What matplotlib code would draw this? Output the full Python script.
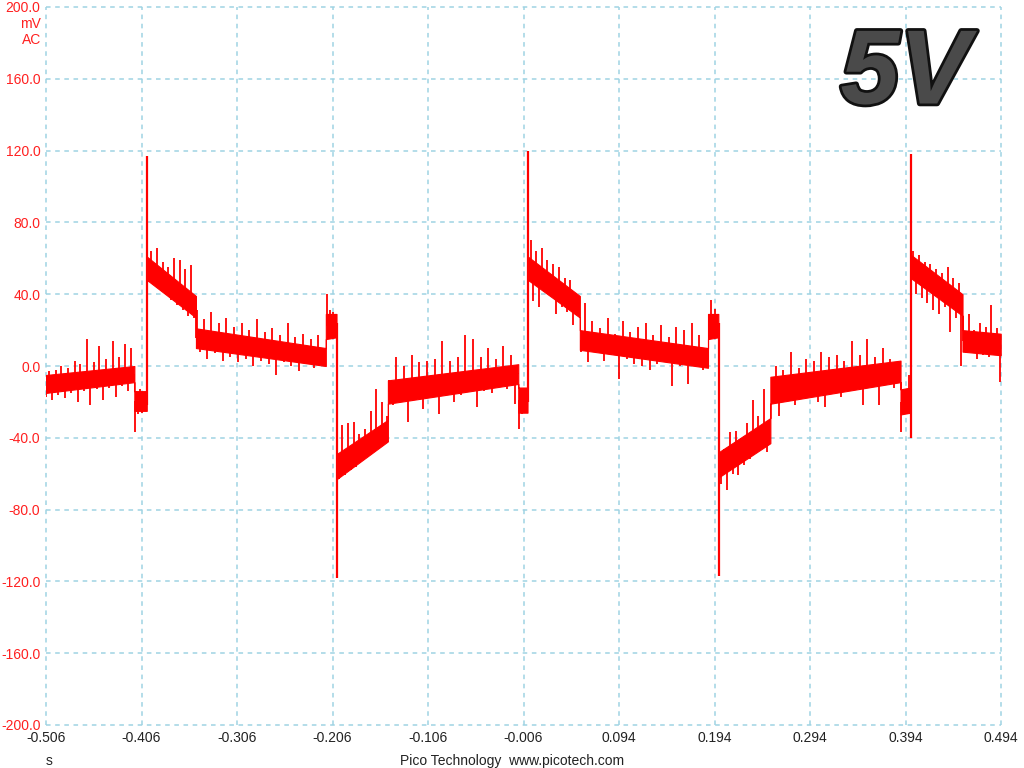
import numpy as np
import matplotlib
matplotlib.use("Agg")
import matplotlib.pyplot as plt
import matplotlib.patheffects as pe

plt.rcParams['font.family'] = ['Liberation Sans', 'DejaVu Sans']

# band of the dense trace (s, mV)
band_t = [-0.506, -0.4135, -0.4135, -0.4005, -0.4005, -0.349, -0.349, -0.213, -0.213, -0.2018,
          -0.2015, -0.148, -0.148, -0.0115, -0.0115, -0.0018, -0.0015, 0.053, 0.053, 0.1872,
          0.1872, 0.198, 0.1985, 0.2525, 0.2525, 0.3888, 0.3888, 0.3993, 0.3995, 0.4537,
          0.4537, 0.4937]
band_lo = [-15, -9, -25, -25, 48, 27, 10, 0, 15, 16, -63, -42, -21, -10, -26, -26, 48, 27, 9, -1,
           15, 16, -62, -43, -21, -9, -27, -26, 49, 28, 8, 6]
band_hi = [-5, 0, -14, -14, 61, 39, 21, 10, 29, 29, -49, -30, -8, 1, -12, -12, 61, 39, 20, 10,
           29, 29, -48, -29, -6, 3, -13, -12, 62, 40, 20, 18]

# the big transients at each edge
big_t = [-0.4005, -0.2016, -0.0016, 0.1982, 0.3993]
big_lo = [-22, -118, -20, -117, -40]
big_hi = [117, 24, 120, 24, 118]

# noise spike tips, segment by segment
t_a = [-0.506, -0.503, -0.500, -0.496, -0.493, -0.490, -0.486, -0.483, -0.480, -0.476, -0.473,
       -0.470, -0.466, -0.463, -0.460, -0.456, -0.453, -0.450, -0.446, -0.443, -0.440, -0.436,
       -0.433, -0.430, -0.426, -0.423, -0.420, -0.417, -0.414]
v_a = [-17, -3, -19, -2, -16, 0, -18, -1, -15, 3, -20, 1, -14, 15, -22, 2, -13, 11, -19, 4,
       -12, 14, -17, 5, -11, 12, -14, 10, -9]
t_b = [-0.413, -0.412, -0.410, -0.408, -0.406, -0.404, -0.402, -0.401]
v_b = [-37, -14, -27, -13, -26, -15, -25, -17]
t_c = [-0.400, -0.398, -0.396, -0.393, -0.390, -0.387, -0.384, -0.381, -0.378,
       -0.375, -0.372, -0.369, -0.366, -0.363, -0.360, -0.357, -0.354, -0.351, -0.349]
v_c = [68, 47, 64, 46, 66, 43, 58, 40, 55, 37, 60, 34, 59, 31, 54, 28, 56, 27, 38]
t_d = [-0.348, -0.345, -0.341, -0.337, -0.333, -0.329, -0.325, -0.321, -0.317, -0.313,
       -0.309, -0.305, -0.301, -0.297, -0.293, -0.289, -0.285, -0.281, -0.277, -0.273,
       -0.269, -0.265, -0.261, -0.257, -0.253, -0.249, -0.245, -0.241, -0.237, -0.233,
       -0.229, -0.225, -0.221, -0.217, -0.214]
v_d = [31, 8, 26, 4, 30, 7, 24, 3, 27, 5, 22, 2, 24, 4, 20, 0, 26, 3, 19, 1,
       21, -5, 17, 2, 24, 0, 16, -3, 18, 1, 15, -1, 17, 2, 9]
t_e = [-0.212, -0.211, -0.209, -0.207, -0.205, -0.203]
v_e = [40, 16, 31, 17, 30, 18]
t_f = [-0.201, -0.199, -0.196, -0.193, -0.190, -0.187, -0.184, -0.181, -0.178,
       -0.175, -0.172, -0.169, -0.166, -0.163, -0.160, -0.157, -0.154, -0.151, -0.149]
v_f = [-40, -63, -33, -61, -32, -58, -31, -56, -38, -52, -35, -49, -25, -46, -13,
       -44, -20, -42, -28]
t_g = [-0.147, -0.143, -0.139, -0.135, -0.131, -0.127, -0.123, -0.119, -0.115, -0.111,
       -0.107, -0.103, -0.099, -0.095, -0.091, -0.087, -0.083, -0.079, -0.075, -0.071,
       -0.067, -0.063, -0.059, -0.055, -0.051, -0.047, -0.043, -0.039, -0.035, -0.031,
       -0.027, -0.023, -0.019, -0.015, -0.012]
v_g = [-8, -22, 5, -20, 0, -31, 6, -19, 2, -24, 3, -17, 4, -27, 14, -15, 3, -20, 5, -16,
       17, -12, 15, -23, 5, -14, 10, -15, 4, -10, 11, -13, 6, -21, -4]
t_h = [-0.011, -0.010, -0.008, -0.006, -0.004, -0.003]
v_h = [-35, -14, -27, -13, -26, -15]
t_c2 = [-0.0012, 0.000, 0.002, 0.004, 0.007, 0.010, 0.013, 0.016, 0.019, 0.022,
        0.025, 0.028, 0.031, 0.034, 0.037, 0.040, 0.043, 0.046, 0.049, 0.052]
v_c2 = [94, 48, 70, 36, 64, 33, 66, 44, 59, 40, 57, 29, 55, 33, 49, 30, 48, 23, 40, 28]
t_d2 = [0.054, 0.058, 0.062, 0.066, 0.070, 0.074, 0.078, 0.082, 0.086, 0.090, 0.094, 0.098,
        0.102, 0.106, 0.110, 0.114, 0.118, 0.122, 0.126, 0.130, 0.134, 0.138, 0.142, 0.146,
        0.150, 0.154, 0.158, 0.162, 0.166, 0.170, 0.174, 0.178, 0.182, 0.186]
v_d2 = [8, 35, 2, 25, 8, 21, 3, 27, 6, 18, -7, 25, 4, 19, 1, 22, 0, 24, -2, 17,
        1, 23, 3, 16, -11, 22, 0, 20, -10, 24, 1, 17, -2, 10]
t_e2 = [0.188, 0.190, 0.192, 0.194, 0.196]
v_e2 = [15, 37, 17, 32, 16]
t_f2 = [0.199, 0.201, 0.204, 0.207, 0.210, 0.213, 0.216, 0.219, 0.222, 0.225,
        0.228, 0.231, 0.234, 0.237, 0.240, 0.243, 0.246, 0.249, 0.251]
v_f2 = [-48, -66, -46, -69, -37, -60, -36, -61, -40, -55, -32, -52, -19, -48, -28,
        -45, -13, -48, -30]
t_g2 = [0.254, 0.258, 0.262, 0.266, 0.270, 0.274, 0.278, 0.282, 0.286, 0.290, 0.294, 0.298,
        0.302, 0.306, 0.310, 0.314, 0.318, 0.322, 0.326, 0.330, 0.334, 0.338, 0.342, 0.346,
        0.350, 0.354, 0.358, 0.362, 0.366, 0.370, 0.374, 0.378, 0.382, 0.386]
v_g2 = [-20, 0, -28, -2, -19, 8, -22, -1, -18, 4, -15, 3, -20, 8, -23, 5, -14, 6, -17, 3,
        -12, 14, -13, 6, -22, 15, -11, 5, -22, 10, -10, 4, -12, 1]
t_h2 = [0.389, 0.390, 0.392, 0.394, 0.396, 0.398]
v_h2 = [-37, -14, -26, -13, -27, -5]
t_c3 = [0.400, 0.402, 0.405, 0.408, 0.411, 0.414, 0.417, 0.420, 0.423, 0.426,
        0.429, 0.432, 0.435, 0.438, 0.441, 0.444, 0.447, 0.450, 0.452]
v_c3 = [55, 64, 40, 62, 38, 58, 35, 57, 31, 54, 29, 52, 33, 55, 19, 49, 27, 46, 0]
t_d3 = [0.454, 0.457, 0.460, 0.463, 0.466, 0.469, 0.472, 0.475, 0.478, 0.481, 0.484,
        0.487, 0.490, 0.493]
v_d3 = [22, 7, 29, 9, 20, 4, 24, 6, 22, 5, 34, 8, 21, -9]

spike_t = (t_a + t_b + t_c + t_d + t_e + t_f + t_g + t_h
           + t_c2 + t_d2 + t_e2 + t_f2 + t_g2 + t_h2 + t_c3 + t_d3)
spike_v = (v_a + v_b + v_c + v_d + v_e + v_f + v_g + v_h
           + v_c2 + v_d2 + v_e2 + v_f2 + v_g2 + v_h2 + v_c3 + v_d3)

x_ticks = [-0.506, -0.406, -0.306, -0.206, -0.106, -0.006, 0.094, 0.194, 0.294, 0.394, 0.494]
x_labels = ["-0.506", "-0.406", "-0.306", "-0.206", "-0.106", "-0.006",
            "0.094", "0.194", "0.294", "0.394", "0.494"]
y_ticks = [-200, -160, -120, -80, -40, 0, 40, 80, 120, 160, 200]
y_labels = ["-200.0", "-160.0", "-120.0", "-80.0", "-40.0", "0.0",
            "40.0", "80.0", "120.0", "160.0", "200.0"]

W, H = 1024, 768
fig = plt.figure(figsize=(W / 100, H / 100), dpi=100)
ax = fig.add_axes([46 / W, 1 - 725 / H, (1001 - 46) / W, (725 - 7) / H])
ax.set_xlim(-0.506, 0.494)
ax.set_ylim(-200, 200)
for s in ax.spines.values():
    s.set_visible(False)

grid_c = "#9fd3e3"
for xt in x_ticks:
    ax.axvline(xt, color=grid_c, lw=1.1, ls=(0, (3, 3)), clip_on=False, zorder=0)
for yt in y_ticks:
    ax.axhline(yt, color=grid_c, lw=1.1, ls=(0, (3, 3)), clip_on=False, zorder=0)

red = "#ff0000"
ax.fill_between(band_t, band_lo, band_hi, color=red, lw=0.8, zorder=2)
# each noise spike drawn from the middle of the band out to its tip
mid = np.interp(spike_t, band_t, (np.array(band_lo) + np.array(band_hi)) / 2)
ax.vlines(spike_t, mid, spike_v, color=red, lw=1.3, zorder=3)
ax.vlines(big_t, big_lo, big_hi, color=red, lw=1.6, zorder=3)

ax.set_xticks(x_ticks)
ax.set_xticklabels(x_labels, fontsize=10, color="#222222")
ax.set_yticks(y_ticks)
ax.set_yticklabels(y_labels, fontsize=10, color="#ff2020")
ax.tick_params(length=0, pad=4)

fig.text(41 / W, 1 - 24 / H, "mV", ha="right", va="center", fontsize=10, color="#ff2020")
fig.text(41 / W, 1 - 40 / H, "AC", ha="right", va="center", fontsize=10, color="#ff2020")
fig.text(49 / W, 1 - 761 / H, "s", ha="center", va="center", fontsize=10, color="#222222")
fig.text(512 / W, 1 - 761 / H, "Pico Technology  www.picotech.com", ha="center",
         va="center", fontsize=10, color="#222222")

fig.text(905 / W, 1 - 76 / H, "5V", ha="center", va="center", fontsize=76,
         fontweight="bold", fontstyle="italic", color="#4a4a4a",
         path_effects=[pe.Stroke(linewidth=4, foreground="#111111"), pe.Normal()])

fig.savefig("out.png", dpi=100)
